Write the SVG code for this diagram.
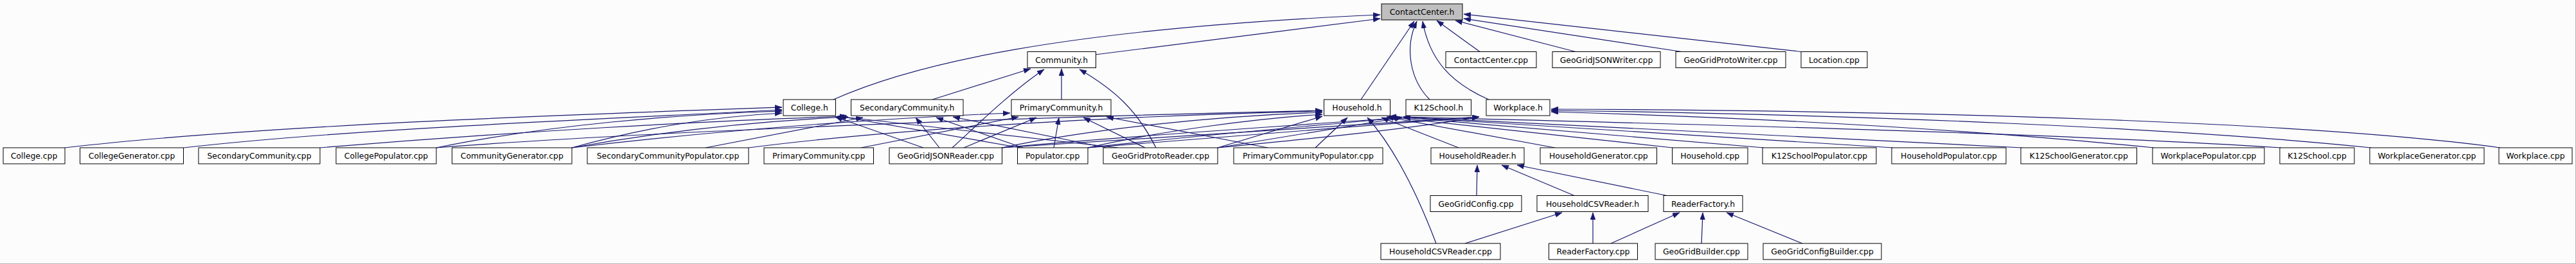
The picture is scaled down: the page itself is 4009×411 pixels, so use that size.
<svg xmlns="http://www.w3.org/2000/svg" width="4009" height="411" viewBox="0 0 4009 411">
<defs>
<marker id="ah" markerUnits="userSpaceOnUse" markerWidth="12" markerHeight="9" refX="11" refY="4" orient="auto"><path d="M0,0 L11,4 L0,8 z" fill="#191970" stroke="#191970" stroke-width="0.5"/></marker>
</defs>
<style>
.n rect{fill:#ffffff;stroke:#000000;stroke-width:1}
.n.root rect{fill:#bfbfbf}
.n text{font-family:"DejaVu Sans","Liberation Sans",sans-serif;font-size:12.4px;fill:#000000;text-anchor:middle}
#edges path{fill:none;stroke:#191970;stroke-width:1.2;marker-end:url(#ah)}
</style>
<rect x="0" y="0" width="4009" height="411" fill="#fbfcfb"/>
<line x1="0" y1="410.5" x2="4009" y2="410.5" stroke="#b4b4b4" stroke-width="1"/>
<line x1="4008.5" y1="0" x2="4008.5" y2="411" stroke="#b4b4b4" stroke-width="1"/>
<g id="edges">
<path d="M1297,155 C1420,100 1650,45 2148,23"/>
<path d="M1705,85 L2148,29"/>
<path d="M2118,155 L2201,33"/>
<path d="M2225,155 C2195,125 2185,75 2205,33"/>
<path d="M2317,155 C2260,130 2225,95 2214,33"/>
<path d="M2303,80.5 L2236,32"/>
<path d="M2452,80.5 L2265,32"/>
<path d="M2617,80.5 L2278,29"/>
<path d="M2803,80.5 L2278,22"/>
<path d="M1451,155 L1604,107"/>
<path d="M1482,230 C1510,205 1570,145 1625,108"/>
<path d="M1652,155 L1652,107"/>
<path d="M1799,230 C1770,172 1735,140 1680,108"/>
<path d="M101,230 C400,195 900,178 1217,167"/>
<path d="M286,230 C550,200 950,185 1217,171"/>
<path d="M679,230 C850,195 1050,178 1217,173"/>
<path d="M890,230 C1000,200 1100,182 1217,176"/>
<path d="M1437,230 L1300,182"/>
<path d="M1588,230 L1306,181"/>
<path d="M1740,230 L1303,181"/>
<path d="M498,230 C800,205 1100,188 1318,181"/>
<path d="M890,230 C1000,210 1150,190 1320,182"/>
<path d="M1098,230 L1343,183"/>
<path d="M1462,230 L1425,183"/>
<path d="M1592,230 L1457,183"/>
<path d="M1722,230 L1483,182"/>
<path d="M890,230 C1100,205 1350,185 1572,176"/>
<path d="M1340,230 L1585,182"/>
<path d="M1500,230 L1613,183"/>
<path d="M1640,230 L1648,183"/>
<path d="M1782,230 L1686,183"/>
<path d="M1973,230 L1722,182"/>
<path d="M679,230 C1000,205 1600,182 2058,172"/>
<path d="M1165,230 C1400,200 1750,180 2058,173"/>
<path d="M1559,230 C1700,200 1900,180 2058,175"/>
<path d="M1693,230 C1800,205 1950,185 2058,178"/>
<path d="M1895,230 L2058,181"/>
<path d="M2047,230 L2097,183"/>
<path d="M2235,379 C2205,300 2170,230 2128,183"/>
<path d="M2270,230 L2150,183"/>
<path d="M2420,230 L2158,182"/>
<path d="M2603,230 L2160,182"/>
<path d="M2946,230 L2162,181"/>
<path d="M1559,230 C1750,212 1950,200 2182,183"/>
<path d="M1693,230 C1850,212 2000,200 2182,183"/>
<path d="M1895,230 L2182,183"/>
<path d="M2745,230 L2184,183"/>
<path d="M3147,230 L2184,182"/>
<path d="M3550,230 C3200,208 2700,195 2184,182"/>
<path d="M1559,230 C1800,215 2050,200 2302,182"/>
<path d="M1693,230 C1900,212 2100,198 2302,182"/>
<path d="M1895,230 C2050,215 2200,200 2302,182"/>
<path d="M3891,230 C3600,190 3000,172 2414,170"/>
<path d="M3690,230 C3400,200 2900,178 2414,172"/>
<path d="M3352,230 C3100,205 2800,185 2414,174"/>
<path d="M2298,304.5 L2299,257"/>
<path d="M2450,304.5 L2337,257"/>
<path d="M2594,304.5 L2361,257"/>
<path d="M2280,379 L2431,331"/>
<path d="M2479,379 L2479,331"/>
<path d="M2507,379 L2614,331"/>
<path d="M2648,379 L2650,331"/>
<path d="M2805,379 L2687,331"/>
</g>
<g id="n_ContactCenter_h" class="n root"><rect x="2150" y="6" width="126" height="25"/><text x="2213" y="23">ContactCenter.h</text></g>
<g id="n_Community_h" class="n"><rect x="1599" y="80.5" width="106.5" height="25"/><text x="1652.2" y="97.5">Community.h</text></g>
<g id="n_ContactCenter_cpp" class="n"><rect x="2250" y="80.5" width="141" height="25"/><text x="2320.5" y="97.5">ContactCenter.cpp</text></g>
<g id="n_GeoGridJSONWriter_cpp" class="n"><rect x="2416" y="80.5" width="168" height="25"/><text x="2500" y="97.5">GeoGridJSONWriter.cpp</text></g>
<g id="n_GeoGridProtoWriter_cpp" class="n"><rect x="2608" y="80.5" width="171" height="25"/><text x="2693.5" y="97.5">GeoGridProtoWriter.cpp</text></g>
<g id="n_Location_cpp" class="n"><rect x="2803" y="80.5" width="103" height="25"/><text x="2854.5" y="97.5">Location.cpp</text></g>
<g id="n_College_h" class="n"><rect x="1219" y="155" width="81.5" height="25"/><text x="1259.8" y="172">College.h</text></g>
<g id="n_SecondaryCommunity_h" class="n"><rect x="1324.5" y="155" width="174.5" height="25"/><text x="1411.8" y="172">SecondaryCommunity.h</text></g>
<g id="n_PrimaryCommunity_h" class="n"><rect x="1574" y="155" width="155" height="25"/><text x="1651.5" y="172">PrimaryCommunity.h</text></g>
<g id="n_Household_h" class="n"><rect x="2060.5" y="155" width="103" height="25"/><text x="2112" y="172">Household.h</text></g>
<g id="n_K12School_h" class="n"><rect x="2188" y="155" width="101.5" height="25"/><text x="2238.8" y="172">K12School.h</text></g>
<g id="n_Workplace_h" class="n"><rect x="2313" y="155" width="99" height="25"/><text x="2362.5" y="172">Workplace.h</text></g>
<g id="n_College_cpp" class="n"><rect x="5" y="230" width="96" height="25"/><text x="53" y="247">College.cpp</text></g>
<g id="n_CollegeGenerator_cpp" class="n"><rect x="124.5" y="230" width="161" height="25"/><text x="205" y="247">CollegeGenerator.cpp</text></g>
<g id="n_SecondaryCommunity_cpp" class="n"><rect x="309" y="230" width="189" height="25"/><text x="403.5" y="247">SecondaryCommunity.cpp</text></g>
<g id="n_CollegePopulator_cpp" class="n"><rect x="523" y="230" width="156" height="25"/><text x="601" y="247">CollegePopulator.cpp</text></g>
<g id="n_CommunityGenerator_cpp" class="n"><rect x="703.5" y="230" width="186.5" height="25"/><text x="796.8" y="247">CommunityGenerator.cpp</text></g>
<g id="n_SecondaryCommunityPopulator_cpp" class="n"><rect x="914" y="230" width="251" height="25"/><text x="1039.5" y="247">SecondaryCommunityPopulator.cpp</text></g>
<g id="n_PrimaryCommunity_cpp" class="n"><rect x="1189" y="230" width="170.5" height="25"/><text x="1274.2" y="247">PrimaryCommunity.cpp</text></g>
<g id="n_GeoGridJSONReader_cpp" class="n"><rect x="1384" y="230" width="175.5" height="25"/><text x="1471.8" y="247">GeoGridJSONReader.cpp</text></g>
<g id="n_Populator_cpp" class="n"><rect x="1583.5" y="230" width="109.5" height="25"/><text x="1638.2" y="247">Populator.cpp</text></g>
<g id="n_GeoGridProtoReader_cpp" class="n"><rect x="1717" y="230" width="178" height="25"/><text x="1806" y="247">GeoGridProtoReader.cpp</text></g>
<g id="n_PrimaryCommunityPopulator_cpp" class="n"><rect x="1920" y="230" width="232" height="25"/><text x="2036" y="247">PrimaryCommunityPopulator.cpp</text></g>
<g id="n_HouseholdReader_h" class="n"><rect x="2227" y="230" width="145" height="25"/><text x="2299.5" y="247">HouseholdReader.h</text></g>
<g id="n_HouseholdGenerator_cpp" class="n"><rect x="2397" y="230" width="181.5" height="25"/><text x="2487.8" y="247">HouseholdGenerator.cpp</text></g>
<g id="n_Household_cpp" class="n"><rect x="2602.5" y="230" width="117.5" height="25"/><text x="2661.2" y="247">Household.cpp</text></g>
<g id="n_K12SchoolPopulator_cpp" class="n"><rect x="2743" y="230" width="177" height="25"/><text x="2831.5" y="247">K12SchoolPopulator.cpp</text></g>
<g id="n_HouseholdPopulator_cpp" class="n"><rect x="2944" y="230" width="178" height="25"/><text x="3033" y="247">HouseholdPopulator.cpp</text></g>
<g id="n_K12SchoolGenerator_cpp" class="n"><rect x="3145" y="230" width="180.5" height="25"/><text x="3235.2" y="247">K12SchoolGenerator.cpp</text></g>
<g id="n_WorkplacePopulator_cpp" class="n"><rect x="3350" y="230" width="174" height="25"/><text x="3437" y="247">WorkplacePopulator.cpp</text></g>
<g id="n_K12School_cpp" class="n"><rect x="3548" y="230" width="116" height="25"/><text x="3606" y="247">K12School.cpp</text></g>
<g id="n_WorkplaceGenerator_cpp" class="n"><rect x="3688" y="230" width="178" height="25"/><text x="3777" y="247">WorkplaceGenerator.cpp</text></g>
<g id="n_Workplace_cpp" class="n"><rect x="3889" y="230" width="114" height="25"/><text x="3946" y="247">Workplace.cpp</text></g>
<g id="n_GeoGridConfig_cpp" class="n"><rect x="2226" y="304.5" width="142" height="25"/><text x="2297" y="321.5">GeoGridConfig.cpp</text></g>
<g id="n_HouseholdCSVReader_h" class="n"><rect x="2392" y="304.5" width="173" height="25"/><text x="2478.5" y="321.5">HouseholdCSVReader.h</text></g>
<g id="n_ReaderFactory_h" class="n"><rect x="2589" y="304.5" width="123" height="25"/><text x="2650.5" y="321.5">ReaderFactory.h</text></g>
<g id="n_HouseholdCSVReader_cpp" class="n"><rect x="2149" y="379" width="186" height="25"/><text x="2242" y="396">HouseholdCSVReader.cpp</text></g>
<g id="n_ReaderFactory_cpp" class="n"><rect x="2410.5" y="379" width="138" height="25"/><text x="2479.5" y="396">ReaderFactory.cpp</text></g>
<g id="n_GeoGridBuilder_cpp" class="n"><rect x="2576" y="379" width="144" height="25"/><text x="2648" y="396">GeoGridBuilder.cpp</text></g>
<g id="n_GeoGridConfigBuilder_cpp" class="n"><rect x="2744" y="379" width="184" height="25"/><text x="2836" y="396">GeoGridConfigBuilder.cpp</text></g>
</svg>
